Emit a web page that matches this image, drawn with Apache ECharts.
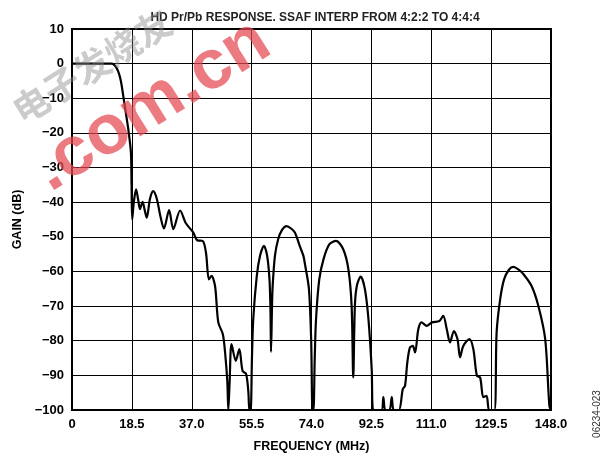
<!DOCTYPE html>
<html>
<head>
<meta charset="utf-8">
<script src="https://cdn.jsdelivr.net/npm/echarts@6/dist/echarts.min.js"></script>
<style>
  html, body { margin: 0; padding: 0; background: #fff; }
  #chart { width: 606px; height: 459px; }
</style>
</head>
<body>
<div id="chart"></div>
<script>
// HD Pr/Pb response, SSAF interpolation 4:2:2 -> 4:4:4
// values (MHz, dB); -100 is the floor of the axis

const freqMHz = [
  0, 5, 10, 12.3, 13.3, 14.3, 15.1, 15.85, 16.6, 17.4, 18.2, 18.4, 18.6,
  19.1, 19.8, 20.4, 21.0, 21.8, 22.4, 23.1, 24.1, 25.1, 26.2, 27.3, 28.4,
  30.0, 31.3, 33.4, 35.2, 37.5, 38.7, 40.4, 41.4, 42.3, 43.1, 44.2, 45.2,
  46.6, 47.3, 48.0, 48.3, 48.7, 49.3, 50.6, 51.7, 52.7, 53.8, 54.5, 54.8,
  55.2, 55.6, 56.0, 57.1, 58.1, 59.3, 60.3, 61.0, 61.3, 61.5, 61.8, 62.0,
  62.7, 63.7, 64.9, 66.3, 67.7, 68.9, 70.5, 71.5, 72.0, 73.2, 73.9, 74.3,
  74.6, 75.0, 75.4, 76.4, 77.7, 79.5, 81.6, 83.8, 85.4, 86.4, 86.9, 87.4,
  88.0, 89.2, 90.5, 91.6, 92.6, 93.1, 95.6, 96.2, 96.8, 98.1, 98.8, 99.4,
  101.0, 102.2, 102.9, 103.6, 104.4, 105.3, 106.0, 107.0, 108.0, 109.6,
  111.2, 113.5, 114.7, 115.8, 116.8, 118.0, 119.1, 119.9, 120.9, 122.8,
  124.0, 125.1, 126.1, 127.1, 128.1, 128.9, 130.5, 131.2, 132.3, 133.5,
  135.0, 136.4, 138.0, 139.5, 142.0, 144.1, 146.2, 147.5, 148.0
];

const gainDb = [
  0, 0, 0, 0, -0.6, -2.3, -5, -9.4, -14, -19, -25.6, -35, -45,
  -40, -36.3, -39, -42, -39.9, -42, -44.5, -39, -36.8, -39, -44, -47.6,
  -42.3, -47.8, -42.4, -46.1, -48.8, -51, -51.2, -54.6, -62.3, -61.3, -64.2, -74.7,
  -78.1, -83.4, -92, -100, -92, -81, -85.8, -82.4, -88.7, -89.6, -94.9, -100,
  -100, -85, -73.8, -61.3, -55.5, -52.6, -55.5, -62, -70, -83.2, -70, -64.2,
  -55.5, -50.7, -48, -46.9, -47.6, -48.8, -53, -55.5, -58, -65, -80, -100,
  -100, -85, -73.8, -62.3, -56.5, -52.2, -51.2, -53.6, -59.4, -70, -90.6, -70,
  -64.2, -61.5, -65.1, -73.8, -88.2, -100, -100, -96.3, -100, -100, -96.3, -100,
  -100, -94, -93, -86.3, -82, -81.5, -83.4, -76.7, -74.7, -75.7,
  -74.7, -74.3, -72.8, -76.7, -80.5, -77.2, -79.5, -84.8, -81.5, -79.5,
  -82.4, -90.1, -90.6, -96.3, -95.9, -100, -100, -77.6, -68, -62.3,
  -59.5, -58.7, -59.5, -60.8, -64.2, -70, -79.5, -98.8, -100
];

const X_MIN = 0, X_MAX = 148, X_STEP = 18.5;
const Y_MIN = -100, Y_MAX = 10, Y_STEP = 10;

const FONT = "'Liberation Sans', Arial, sans-serif";

const chart = echarts.init(document.getElementById('chart'), null, { renderer: 'canvas' });

chart.setOption({
  animation: false,
  backgroundColor: '#fff',
  title: {
    text: 'HD Pr/Pb RESPONSE. SSAF INTERP FROM 4:2:2 TO 4:4:4',
    left: 310,
    textAlign: 'center',
    top: 7,
    textStyle: { fontFamily: FONT, fontSize: 12, fontWeight: 'bold', color: '#222' },
  },
  grid: { left: 72, right: 55, top: 29, bottom: 49, show: true, borderColor: '#000', borderWidth: 2 },
  xAxis: {
    type: 'value',
    min: X_MIN, max: X_MAX, interval: X_STEP,
    name: 'FREQUENCY (MHz)',
    nameLocation: 'middle',
    nameGap: 30,
    nameTextStyle: { fontFamily: FONT, fontSize: 12.5, fontWeight: 'bold', color: '#000' },
    axisLine: { show: false },
    axisTick: { show: false },
    splitLine: { show: true, lineStyle: { color: '#000', width: 1 } },
    axisLabel: {
      margin: 8,
      fontFamily: FONT, fontSize: 13, fontWeight: 'bold', color: '#000',
      formatter: v => (v === 0 ? '0' : v.toFixed(1)),
    },
  },
  yAxis: {
    type: 'value',
    min: Y_MIN, max: Y_MAX, interval: Y_STEP,
    name: 'GAIN (dB)',
    nameLocation: 'middle',
    nameGap: 48,
    nameTextStyle: { fontFamily: FONT, fontSize: 12.5, fontWeight: 'bold', color: '#000' },
    axisLine: { show: false },
    axisTick: { show: false },
    splitLine: { show: true, lineStyle: { color: '#000', width: 1 } },
    axisLabel: {
      margin: 8,
      fontFamily: FONT, fontSize: 13, fontWeight: 'bold', color: '#000',
      formatter: v => (v < 0 ? '\u2212' + (-v) : String(v)),
    },
  },
  series: [{
    type: 'line',
    data: freqMHz.map((f, i) => [f, gainDb[i]]),
    symbol: 'none',
    smooth: 0.3,
    clip: true,
    lineStyle: { color: '#000', width: 2.2 },
    z: 5,
  }],
  graphic: [
    // watermark
    {
      type: 'text', x: 152, y: 106, rotation: 0.56,
      style: {
        text: '.com.cn', fill: 'rgba(228,70,80,0.72)',
        font: "bold 70px 'Liberation Sans', Arial, sans-serif",
        textAlign: 'center', textVerticalAlign: 'middle',
      },
      z: 10, silent: true,
    },
    {
      type: 'text', x: 92, y: 66, rotation: 0.56,
      style: {
        text: '电子发烧友', fill: 'rgba(140,140,140,0.45)',
        font: "bold 36px 'Noto Sans CJK SC', sans-serif",
        textAlign: 'center', textVerticalAlign: 'middle',
      },
      z: 10, silent: true,
    },
    {
      type: 'text', x: 597, y: 414, rotation: Math.PI / 2,
      style: {
        text: '06234-023', fill: '#333',
        font: "10px 'Liberation Sans', Arial, sans-serif",
        textAlign: 'center', textVerticalAlign: 'middle',
      },
      silent: true,
    },
  ],
});
</script>
</body>
</html>
